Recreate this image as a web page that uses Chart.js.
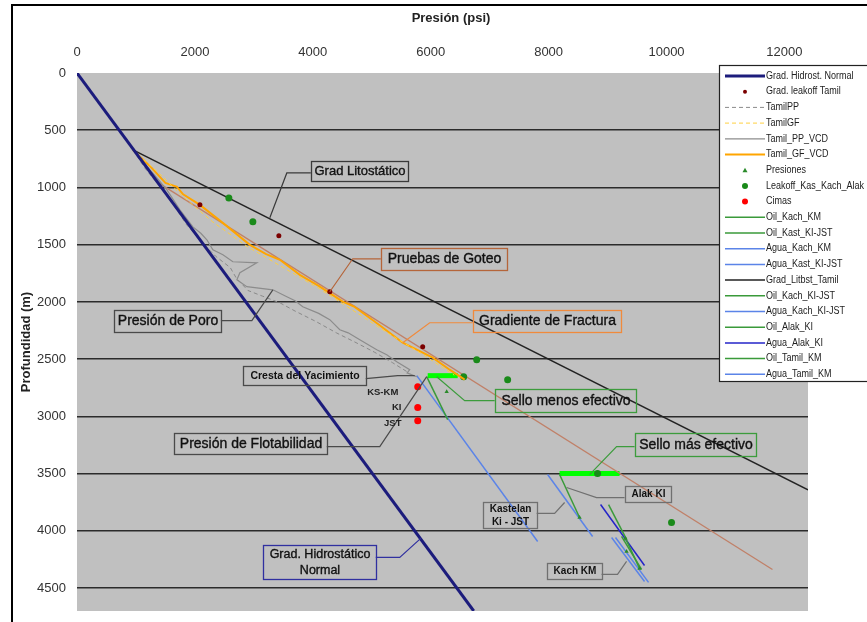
<!DOCTYPE html>
<html>
<head>
<meta charset="utf-8">
<script src="https://cdn.jsdelivr.net/npm/chart.js@4.4.1/dist/chart.umd.min.js"></script>
<style>
  html, body { margin: 0; padding: 0; background: #fff; }
  #wrap { width: 867px; height: 622px; }
</style>
</head>
<body>
<div id="wrap"><canvas id="chart" width="867" height="622"></canvas></div>
<script>
// Ticks
const xTicks = [0, 2000, 4000, 6000, 8000, 10000, 12000];
const yTicks = [0, 500, 1000, 1500, 2000, 2500, 3000, 3500, 4000, 4500];

// Series: [presion psi, profundidad m]
const hidrostNormal = [[0, 0], [6730, 4700]];
const leakoffTamil = [[2085, 1152], [3424, 1422], [4288, 1911], [5864, 2391]];
const tamilPP = [[949, 672], [1150, 830], [1400, 990], [1650, 1160], [1850, 1320], [2100, 1470], [2350, 1600],
  [2600, 1700], [2700, 1790], [2900, 1900], [3150, 1950], [3450, 2010], [3700, 2080], [4050, 2170],
  [4400, 2270], [4750, 2360], [5050, 2440], [5350, 2530], [5600, 2610]];
const tamilGF = [[949, 672], [1400, 880], [1800, 1080], [2300, 1300], [2900, 1520], [3500, 1700], [4100, 1880],
  [4700, 2080], [5300, 2280], [5900, 2470], [6400, 2640]];
const tamilPPVCD = [[949, 672], [1100, 760], [1237, 846], [1330, 900], [1525, 1021], [1600, 1080], [1746, 1195],
  [1966, 1344], [2100, 1400], [2203, 1457], [2305, 1545], [2475, 1588], [2644, 1649], [3051, 1658],
  [2763, 1745], [2712, 1806], [2881, 1867], [3322, 1894], [3559, 1955], [3700, 1990], [3830, 2042],
  [4100, 2100], [4288, 2155], [4458, 2243], [4600, 2270], [4797, 2330], [5085, 2417], [5254, 2461],
  [5424, 2522], [5644, 2592], [5600, 2620], [5763, 2653]];
const tamilGFVCD = [[949, 672], [1250, 820], [1500, 960], [1695, 995], [1800, 1060], [2085, 1152], [2500, 1320],
  [2932, 1501], [3200, 1580], [3441, 1632], [3780, 1763], [4100, 1860], [4508, 1998], [4700, 2040],
  [5100, 2190], [5525, 2356], [6034, 2487], [6322, 2592], [6576, 2679]];
const presiones = [[6271, 2784], [8525, 3883], [9305, 4066], [9322, 4180], [9542, 4328]];
const leakoffKasKachAlak = [[2576, 1091], [2983, 1300], [6780, 2504], [7305, 2679], [6559, 2653], [8830, 3499], [10085, 3927]];
const cimas = [[5780, 2740], [5780, 2923], [5780, 3037]];
const oilKachKM = [[9305, 4066], [9542, 4328]];
const oilKastKIJST = [[8186, 3508], [8525, 3883]];
const aguaKachKM = [[9068, 4058], [9627, 4442]];
const aguaKastKIJST = [[7983, 3508], [8746, 4049]];
const gradLitbstTamil = [[949, 672], [12400, 3642]];
const oilKachKIJST = [[9237, 4049], [9576, 4337]];
const aguaKachKIJST = [[9135, 4058], [9695, 4450]];
const oilAlakKI = [[9017, 3770], [9322, 4075]];
const aguaAlakKI = [[8881, 3770], [9627, 4302]];
const oilTamilKM = [[5932, 2653], [6288, 3028]];
const aguaTamilKM = [[5763, 2644], [7814, 4093]];
const leakoffTrend = [[1356, 951], [11797, 4337]];
const selloMenos = [[5949, 2644], [6458, 2644]];
const selloMas = [[8186, 3499], [9203, 3499]];

const FONT = 'Arial, "Liberation Sans", sans-serif';
const pts = (arr) => arr.map(([x, y]) => ({ x, y }));

function line(label, data, color, width, extra = {}) {
  return Object.assign({
    label, data: pts(data), showLine: true, borderColor: color, backgroundColor: color,
    borderWidth: width, pointRadius: 0, kind: 'line'
  }, extra);
}
function dots(label, data, color, radius, style = 'circle') {
  return {
    label, data: pts(data), showLine: false, borderColor: color, backgroundColor: color,
    pointRadius: radius, pointStyle: style, borderWidth: 0, kind: 'point'
  };
}

const GREEN = '#3a9a3a';
const BLUE = '#5b84e8';

const datasets = [
  line('Grad. Hidrost. Normal', hidrostNormal, '#1c1c7c', 3),
  dots('Grad. leakoff Tamil', leakoffTamil, '#7b0000', 2.5),
  line('TamilPP', tamilPP, '#8a8a8a', 1, { borderDash: [4, 3] }),
  line('TamilGF', tamilGF, '#ffd040', 1, { borderDash: [4, 3] }),
  line('Tamil_PP_VCD', tamilPPVCD, '#8c8c8c', 1.2),
  line('Tamil_GF_VCD', tamilGFVCD, '#ffa500', 2),
  dots('Presiones', presiones, '#2a8a2a', 2.5, 'triangle'),
  dots('Leakoff_Kas_Kach_Alak', leakoffKasKachAlak, '#1a8a1a', 3.5),
  dots('Cimas', cimas, '#ff0000', 3.5),
  line('Oil_Kach_KM', oilKachKM, GREEN, 1.5),
  line('Oil_Kast_KI-JST', oilKastKIJST, GREEN, 1.5),
  line('Agua_Kach_KM', aguaKachKM, BLUE, 1.5),
  line('Agua_Kast_KI-JST', aguaKastKIJST, BLUE, 1.5),
  line('Grad_Litbst_Tamil', gradLitbstTamil, '#222222', 1.5),
  line('Oil_Kach_KI-JST', oilKachKIJST, GREEN, 1.5),
  line('Agua_Kach_KI-JST', aguaKachKIJST, BLUE, 1.5),
  line('Oil_Alak_KI', oilAlakKI, GREEN, 1.5),
  line('Agua_Alak_KI', aguaAlakKI, '#2424c8', 1.5),
  line('Oil_Tamil_KM', oilTamilKM, GREEN, 1.5),
  line('Agua_Tamil_KM', aguaTamilKM, BLUE, 1.5),
  line('Tendencia leakoff', leakoffTrend, '#c08068', 1.3, { hidden_legend: true }),
  line('Sello menos efectivo', selloMenos, '#00ff00', 5, { hidden_legend: true }),
  line('Sello más efectivo', selloMas, '#00ff00', 5, { hidden_legend: true }),
];

// Callout boxes: top-left corner in data units, size in px
const notes = [
  { text: ['Grad Litostático'], at: [3966, 768], w: 97, h: 20, size: 13, color: '#3a3a3a', leader: [[3966, 873], [3559, 873], [3271, 1265]] },
  { text: ['Pruebas de Goteo'], at: [5153, 1527], w: 126, h: 22, size: 14, color: '#b5653a', leader: [[5153, 1623], [4678, 1623], [4288, 1911]] },
  { text: ['Presión de Poro'], at: [627, 2068], w: 107, h: 22, size: 14, color: '#4a4a4a', leader: [[2441, 2164], [2966, 2164], [3322, 1894]] },
  { text: ['Gradiente de Fractura'], at: [6712, 2068], w: 148, h: 22, size: 14, color: '#f08a3c', leader: [[6712, 2182], [5983, 2182], [5525, 2356]] },
  { text: ['Cresta del Yacimiento'], at: [2814, 2557], w: 123, h: 19, size: 10.5, bold: true, color: '#4a4a4a', leader: [[4898, 2670], [5441, 2644], [5729, 2644]] },
  { text: ['Presión de Flotabilidad'], at: [1644, 3141], w: 153, h: 21, size: 14, color: '#4a4a4a', leader: [[4237, 3264], [5136, 3264], [5932, 2653]] },
  { text: ['Grad. Hidrostático', 'Normal'], at: [3153, 4127], w: 113, h: 34, size: 12.5, color: '#3030a0', leader: [[5068, 4232], [5475, 4232], [5831, 4066]] },
  { text: ['Sello menos efectivo'], at: [7085, 2757], w: 141, h: 23, size: 14, color: '#3c9c3c', leader: [[7085, 2862], [6576, 2862], [6102, 2653]] },
  { text: ['Sello más efectivo'], at: [9458, 3141], w: 121, h: 23, size: 14, color: '#3c9c3c', leader: [[9458, 3264], [9153, 3264], [8695, 3508]] },
  { text: ['Alak KI'], at: [9288, 3604], w: 46, h: 16, size: 10, bold: true, color: '#707070', leader: [[9288, 3709], [8813, 3709], [8305, 3621]] },
  { text: ['Kastelan', 'Ki - JST'], at: [6881, 3744], w: 54, h: 26, size: 10, bold: true, color: '#707070', leader: [[7797, 3848], [8102, 3848], [8271, 3752]] },
  { text: ['Kach KM'], at: [7966, 4284], w: 55, h: 16, size: 10, bold: true, color: '#707070', leader: [[8898, 4380], [9169, 4380], [9322, 4267]] },
];
const topLabels = [
  { text: 'KS-KM', at: [5186, 2792] },
  { text: 'KI', at: [5424, 2923] },
  { text: 'JST', at: [5356, 3063] },
];

const plotBackground = {
  id: 'plotBackground',
  beforeDraw(chart) {
    const { ctx, chartArea: a } = chart;
    ctx.save();
    ctx.fillStyle = '#c0c0c0';
    ctx.fillRect(a.left, a.top, a.right - a.left, a.bottom - a.top);
    ctx.restore();
  }
};

const callouts = {
  id: 'callouts',
  afterDatasetsDraw(chart) {
    const { ctx, scales: { x, y } } = chart;
    ctx.save();
    notes.forEach((n) => {
      ctx.strokeStyle = n.color;
      ctx.lineWidth = 1.2;
      ctx.beginPath();
      n.leader.forEach(([px, d], i) => {
        const X = x.getPixelForValue(px), Y = y.getPixelForValue(d);
        if (i) ctx.lineTo(X, Y); else ctx.moveTo(X, Y);
      });
      ctx.stroke();
      const bx = Math.round(x.getPixelForValue(n.at[0])) + 0.5;
      const by = Math.round(y.getPixelForValue(n.at[1])) + 0.5;
      ctx.lineWidth = 1.3;
      ctx.strokeRect(bx, by, n.w, n.h);
      ctx.fillStyle = '#111';
      ctx.strokeStyle = '#111';
      ctx.lineWidth = 0.35;
      ctx.font = `${n.bold ? 'bold ' : ''}${n.size}px ${FONT}`;
      ctx.textAlign = 'center';
      ctx.textBaseline = 'middle';
      const lh = n.size * 1.25;
      const y0 = by + n.h / 2 - (lh * (n.text.length - 1)) / 2;
      n.text.forEach((t, i) => {
        ctx.fillText(t, bx + n.w / 2, y0 + i * lh);
        if (!n.bold) ctx.strokeText(t, bx + n.w / 2, y0 + i * lh);
      });
    });
    ctx.font = `bold 9.5px ${FONT}`;
    ctx.fillStyle = '#222';
    topLabels.forEach((l) => {
      ctx.fillText(l.text, x.getPixelForValue(l.at[0]), y.getPixelForValue(l.at[1]));
    });
    ctx.restore();
  }
};

const sideLegend = {
  id: 'sideLegend',
  afterDraw(chart) {
    const { ctx } = chart;
    ctx.save();
    // outer frame of the chart object
    ctx.strokeStyle = '#000';
    ctx.lineWidth = 2;
    ctx.beginPath();
    ctx.moveTo(12, 640);
    ctx.lineTo(12, 5);
    ctx.lineTo(900, 5);
    ctx.stroke();

    // x axis title (sits a bit right of the plot centre in the original)
    ctx.font = `bold 13px ${FONT}`;
    ctx.fillStyle = '#222';
    ctx.textAlign = 'center';
    ctx.textBaseline = 'middle';
    ctx.fillText('Presión (psi)', 451, 18);

    const lx = 719, ly = 65, lw = 150, lh = 316;
    ctx.fillStyle = '#fff';
    ctx.fillRect(lx, ly, lw, lh);
    ctx.lineWidth = 1.2;
    ctx.strokeStyle = '#222';
    ctx.strokeRect(lx + 0.5, ly + 0.5, lw, lh);

    const items = chart.data.datasets.filter((d) => !d.hidden_legend);
    ctx.font = `10px ${FONT}`;
    ctx.textBaseline = 'middle';
    ctx.textAlign = 'left';
    items.forEach((d, i) => {
      const yy = 76 + i * 15.7;
      if (d.kind === 'line') {
        ctx.strokeStyle = d.borderColor;
        ctx.lineWidth = d.borderWidth;
        ctx.setLineDash(d.borderDash || []);
        ctx.beginPath();
        ctx.moveTo(725, yy);
        ctx.lineTo(765, yy);
        ctx.stroke();
        ctx.setLineDash([]);
      } else {
        ctx.fillStyle = d.backgroundColor;
        ctx.beginPath();
        if (d.pointStyle === 'triangle') {
          ctx.moveTo(745, yy - 2.5); ctx.lineTo(747.5, yy + 2); ctx.lineTo(742.5, yy + 2);
        } else {
          ctx.arc(745, yy, d.pointRadius - 0.5, 0, Math.PI * 2);
        }
        ctx.fill();
      }
      ctx.fillStyle = '#222';
      ctx.save();
      ctx.translate(766, yy);
      ctx.scale(0.9, 1);
      ctx.fillText(d.label, 0, 0);
      ctx.restore();
    });
    ctx.restore();
  }
};

new Chart(document.getElementById('chart').getContext('2d'), {
  type: 'scatter',
  data: { datasets },
  plugins: [plotBackground, callouts, sideLegend],
  options: {
    responsive: false,
    animation: false,
    devicePixelRatio: 1,
    layout: { padding: { left: 0, top: 0, right: 59, bottom: 11 } },
    plugins: { legend: { display: false }, tooltip: { enabled: false } },
    scales: {
      x: {
        type: 'linear', position: 'top', min: 0, max: 12400,
        grid: { display: false, drawTicks: false },
        border: { display: false },
        ticks: { font: { family: FONT, size: 13 }, color: '#333', padding: 13, includeBounds: false, maxRotation: 0, callback: (v) => String(v) },
        afterBuildTicks: (s) => { s.ticks = xTicks.map((v) => ({ value: v })); },
        afterFit: (s) => { s.height = 73; s.paddingLeft = 0; s.paddingRight = 0; },
        title: { display: false }
      },
      y: {
        type: 'linear', reverse: true, min: 0, max: 4700,
        grid: { color: (c) => (c.tick && c.tick.value === 0 ? 'rgba(0,0,0,0)' : '#2b2b2b'), lineWidth: 1.6, drawTicks: false },
        border: { display: false },
        ticks: { font: { family: FONT, size: 13 }, color: '#333', padding: 11, includeBounds: false, callback: (v) => String(v) },
        afterBuildTicks: (s) => { s.ticks = yTicks.map((v) => ({ value: v })); },
        afterFit: (s) => { s.width = 77; s.paddingTop = 0; s.paddingBottom = 0; },
        title: { display: true, text: 'Profundidad (m)', color: '#222', font: { family: FONT, size: 13, weight: 'bold' }, padding: { top: 19, bottom: 0 } }
      }
    }
  }
});
</script>
</body>
</html>
